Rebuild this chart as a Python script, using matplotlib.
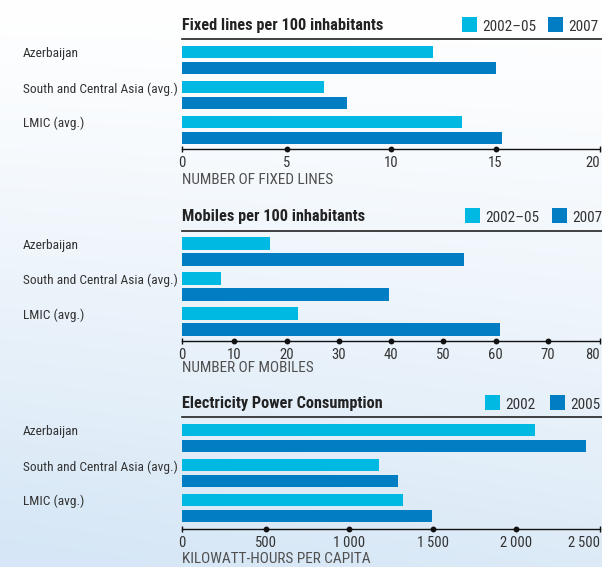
import numpy as np
import matplotlib
matplotlib.use("Agg")
import matplotlib.pyplot as plt
from matplotlib import font_manager as fm
from matplotlib.patches import Rectangle
from matplotlib.lines import Line2D

# ---------------- data ----------------
categories = ["Azerbaijan", "South and Central Asia (avg.)", "LMIC (avg.)"]

fixed_title = "Fixed lines per 100 inhabitants"
fixed_series = ["2002\u201305", "2007"]
fixed_a = [12.0, 6.8, 13.4]
fixed_b = [15.0, 7.9, 15.3]
fixed_ticks = [0, 5, 10, 15, 20]
fixed_ticklabels = ["0", "5", "10", "15", "20"]
fixed_xlabel = "NUMBER OF FIXED LINES"

mobile_title = "Mobiles per 100 inhabitants"
mobile_series = ["2002\u201305", "2007"]
mobile_a = [16.9, 7.5, 22.2]
mobile_b = [53.9, 39.7, 60.9]
mobile_ticks = [0, 10, 20, 30, 40, 50, 60, 70, 80]
mobile_ticklabels = ["0", "10", "20", "30", "40", "50", "60", "70", "80"]
mobile_xlabel = "NUMBER OF MOBILES"

elec_title = "Electricity Power Consumption"
elec_series = ["2002", "2005"]
elec_a = [2110, 1177, 1324]
elec_b = [2415, 1292, 1494]
elec_ticks = [0, 500, 1000, 1500, 2000, 2500]
elec_ticklabels = ["0", "500", "1\u2009000", "1\u2009500", "2\u2009000", "2\u2009500"]
elec_xlabel = "KILOWATT-HOURS PER CAPITA"

# ---------------- style ----------------
def pick(names):
    for n in names:
        try:
            fm.findfont(fm.FontProperties(family=n), fallback_to_default=False)
            return n
        except Exception:
            pass
    return "DejaVu Sans"

FONT = pick(["Liberation Sans Narrow", "Roboto Condensed", "Open Sans Condensed", "Liberation Sans"])
plt.rcParams["font.family"] = [FONT, "DejaVu Sans"]

LIGHT = "#00b9e3"
DARK = "#007dc3"
TXT = "#333333"
GREY = "#505050"

W, H = 602, 567
fig = plt.figure(figsize=(W / 100, H / 100), dpi=100)

# background gradient
bg = fig.add_axes([0, 0, 1, 1])
yy, xx = np.mgrid[0:1:200j, 0:1:200j]
t = np.clip(yy ** 1.2 * 0.85 + (1 - xx) * 0.2 * yy, 0, 1)
top = np.array([1.0, 1.0, 1.0])
bot = np.array([0.84, 0.905, 0.965])
img = top[None, None, :] * (1 - t[..., None]) + bot[None, None, :] * t[..., None]
bg.imshow(img, aspect="auto", extent=[0, 1, 0, 1], origin="upper")
bg.set_axis_off()

def fx(px):
    return px / W

def fy(py):
    return 1 - py / H

LEFT, RIGHT = 182, 600

def panel(rule_y, axis_y, title, series, a, b, ticks, ticklabels, xlabel,
          legend_xs, xlabel_gap):
    h = axis_y - rule_y
    ax = fig.add_axes([fx(LEFT), fy(axis_y), fx(RIGHT) - fx(LEFT), h / H])
    ax.set_facecolor("none")
    y_light = [12.7 + 35 * i for i in range(len(categories))]
    y_dark = [yl + 16 for yl in y_light]
    ax.barh(y_light, a, height=12.5, color=LIGHT, label=series[0])
    ax.barh(y_dark, b, height=12.5, color=DARK, label=series[1])
    ax.set_xlim(ticks[0], ticks[-1])
    ax.set_ylim(h, 0)
    for s in ["top", "left", "right"]:
        ax.spines[s].set_visible(False)
    ax.spines["bottom"].set_color("#111111")
    ax.spines["bottom"].set_linewidth(1.0)
    ax.set_yticks([])
    ax.set_xticks(ticks)
    labs = ax.set_xticklabels(ticklabels, fontsize=10.5, color=TXT)
    labs[-1].set_horizontalalignment("right")
    ax.tick_params(axis="x", length=0, pad=5)
    ax.plot(ticks[1:-1], [h] * (len(ticks) - 2), "o", ms=3.2, color="#111111",
            clip_on=False, zorder=5)
    ax.plot([ticks[0], ticks[-1]], [h, h], "|", ms=5, mew=1, color="#111111",
            clip_on=False, zorder=5)

    # category labels
    for cat, yl in zip(categories, y_light):
        fig.text(fx(23), fy(rule_y + yl + 5.5), cat, fontsize=9.6, color=TXT,
                 ha="left", va="baseline")

    # title and rule
    fig.text(fx(LEFT), fy(rule_y - 9.5), title, fontsize=11.7, fontweight="bold",
             color="#222222", ha="left", va="baseline")
    fig.add_artist(Line2D([fx(LEFT), 1.0], [fy(rule_y), fy(rule_y)],
                          color="#222222", lw=1.2))

    # legend
    for lab, col, x0 in zip(series, [LIGHT, DARK], legend_xs):
        fig.add_artist(Rectangle((fx(x0), fy(rule_y - 7.5)), 15 / W, 15 / H,
                                 color=col, lw=0))
        fig.text(fx(x0 + 20), fy(rule_y - 8.5), lab, fontsize=11.0,
                 color=TXT, ha="left", va="baseline")

    # axis label
    fig.text(fx(LEFT), fy(axis_y + xlabel_gap), xlabel, fontsize=11.0, color=GREY,
             ha="left", va="baseline")
    return ax

panel(39.3, 148.7, fixed_title, fixed_series, fixed_a, fixed_b,
      fixed_ticks, fixed_ticklabels, fixed_xlabel, [462, 548], 35.5)
panel(230.7, 340.7, mobile_title, mobile_series, mobile_a, mobile_b,
      mobile_ticks, mobile_ticklabels, mobile_xlabel, [465, 552], 31.5)
panel(417.3, 529.0, elec_title, elec_series, elec_a, elec_b,
      elec_ticks, elec_ticklabels, elec_xlabel, [485, 550], 34)

fig.savefig("out.png", dpi=100)
